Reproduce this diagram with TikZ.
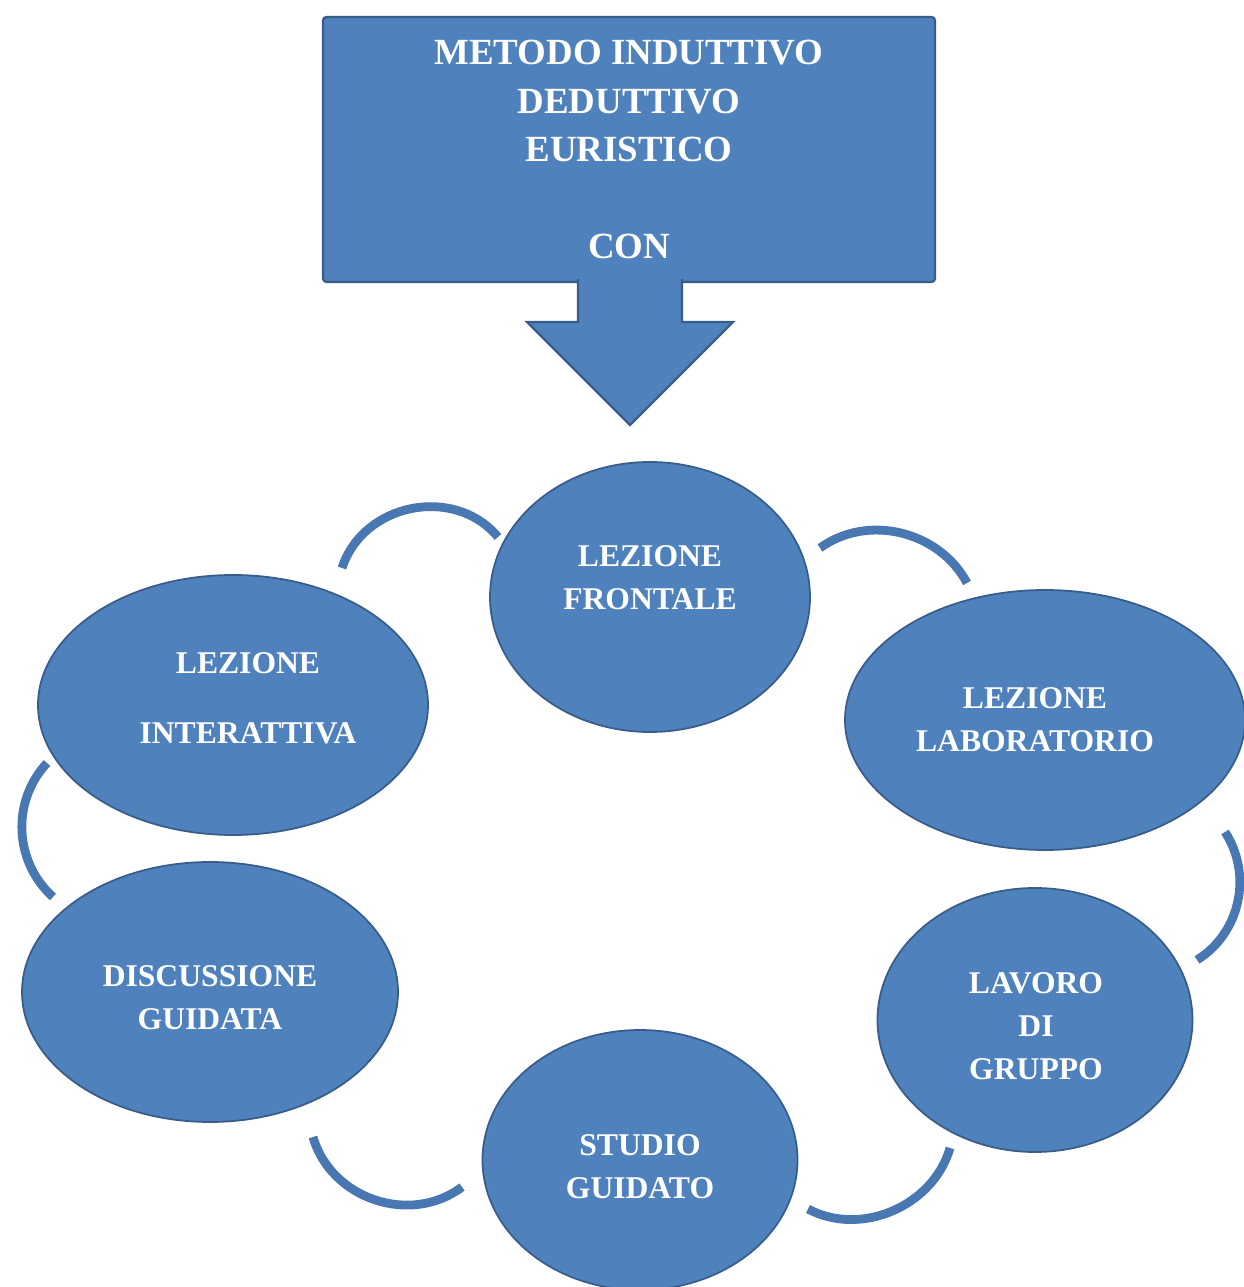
\documentclass[tikz,border=0pt]{standalone}
\usepackage{fontspec}
\setmainfont{Liberation Serif}
\usepackage{tikz}
\usetikzlibrary{shapes.geometric}
\definecolor{fillblue}{RGB}{79,129,189}
\definecolor{edgeblue}{RGB}{56,93,138}
\definecolor{linkblue}{RGB}{72,119,178}

\begin{document}
\begin{tikzpicture}[bubble/.style={ellipse, fill=fillblue, draw=edgeblue, line width=1pt, inner sep=0pt},
  word/.style={text=white, align=center, font=\fontsize{18}{24.5}\selectfont\bfseries},
  bigbox/.style={rectangle, rounded corners=2pt, fill=fillblue, draw=edgeblue, line width=1.3pt,
    minimum width=12.24cm, minimum height=5.30cm, text=white, align=center,
    font=\fontsize{21}{27.5}\selectfont\bfseries},
  link/.style={draw=linkblue, line width=5pt}]
\fill[white] (0,0) rectangle (24.88,25.74);
\useasboundingbox (0,0) rectangle (24.88,25.74);

\node[bigbox] (metodo) at (12.58,22.75) {METODO INDUTTIVO\\DEDUTTIVO\\EURISTICO\\[27.5pt]CON};
\filldraw[fill=fillblue, draw=edgeblue, line width=1.3pt] (11.56,20.16) -- (11.56,19.30) -- (10.54,19.30)
  -- (12.60,17.24) -- (14.66,19.30) -- (13.64,19.30) -- (13.64,20.16);

\node[bubble, minimum width=6.4cm, minimum height=5.4cm] (frontale) at (13.00,13.80) {};
\node[bubble, minimum width=7.8cm, minimum height=5.2cm] (interattiva) at (4.66,11.64) {};
\node[bubble, minimum width=8.0cm, minimum height=5.2cm] (laboratorio) at (20.90,11.34) {};
\node[bubble, minimum width=6.3cm, minimum height=5.28cm] (lavoro) at (20.70,5.34) {};
\node[bubble, minimum width=6.3cm, minimum height=5.2cm] (studio) at (12.80,2.54) {};
\node[bubble, minimum width=7.52cm, minimum height=5.2cm] (discussione) at (4.20,5.90) {};

\node[word] (frontaletxt) at (13.00,14.18) {LEZIONE\\FRONTALE};
\node[word] (interattivatxt) at (4.96,11.78) {LEZIONE\\[15.3pt]INTERATTIVA};
\node[word] (laboratoriotxt) at (20.70,11.34) {LEZIONE\\LABORATORIO};
\node[word] (lavorotxt) at (20.72,5.22) {LAVORO\\DI\\GRUPPO};
\node[word] (studiotxt) at (12.80,2.40) {STUDIO\\GUIDATO};
\node[word] (discussionetxt) at (4.20,5.78) {DISCUSSIONE\\GUIDATA};

\coordinate (c1a) at (6.84,14.38);
\coordinate (c1b) at (9.96,15.00);
\coordinate (c2a) at (16.40,14.78);
\coordinate (c2b) at (19.34,14.08);
\coordinate (c3a) at (24.50,9.10);
\coordinate (c3b) at (23.94,6.54);
\coordinate (c4a) at (19.00,2.78);
\coordinate (c4b) at (16.16,1.56);
\coordinate (c5a) at (6.26,3.00);
\coordinate (c5b) at (9.24,2.00);
\coordinate (c6a) at (0.94,10.48);
\coordinate (c6b) at (1.06,7.80);

\draw[link] (c1a) to[out=72, in=130, looseness=1.1] (c1b);
\draw[link] (c2a) to[out=36, in=118] (c2b);
\draw[link] (c3a) to[out=-57, in=32] (c3b);
\draw[link] (c4a) to[out=-106, in=-28] (c4b);
\draw[link] (c5a) to[out=-74, in=-143, looseness=1.05] (c5b);
\draw[link] (c6a) to[out=-133, in=138] (c6b);
\end{tikzpicture}
\end{document}
